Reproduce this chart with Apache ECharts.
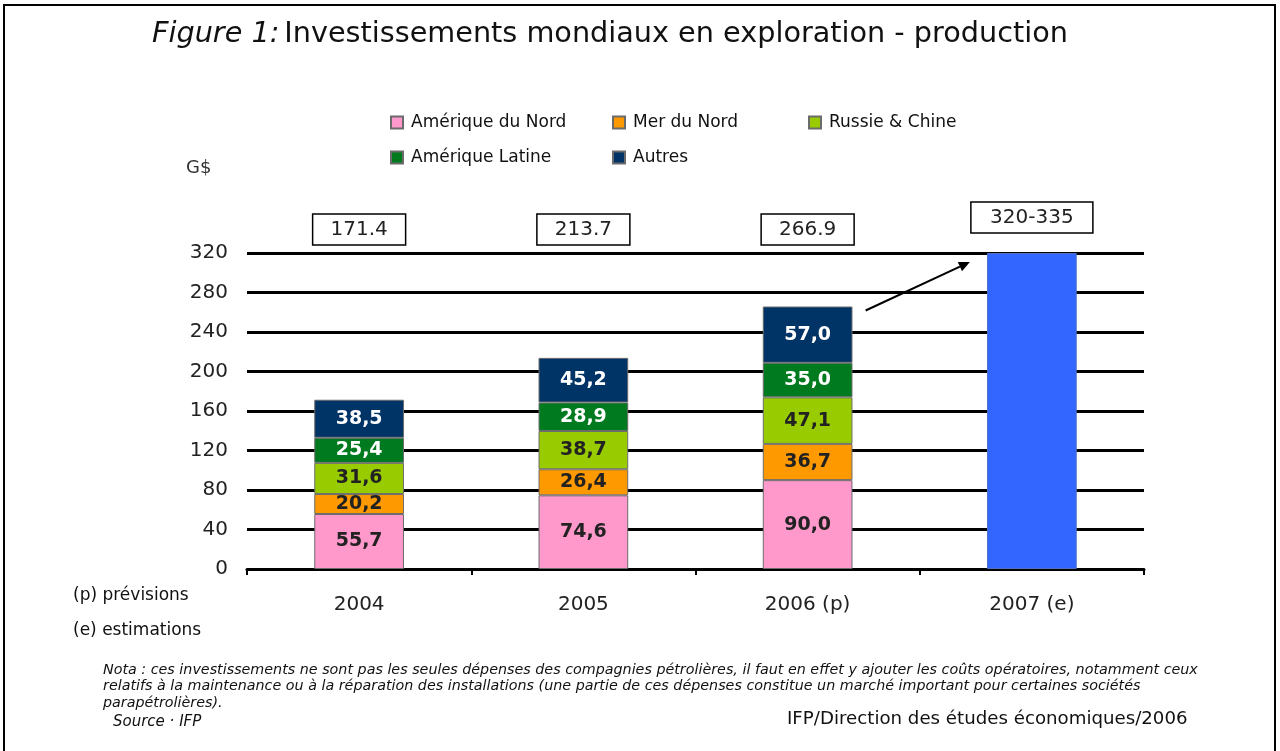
<!DOCTYPE html>
<html>
<head>
<meta charset="utf-8">
<script src="https://cdn.jsdelivr.net/npm/echarts@6/dist/echarts.min.js"></script>
<style>
html,body{margin:0;padding:0;background:#fff;}
#chart{width:1280px;height:751px;}
</style>
</head>
<body>
<div id="chart"></div>
<script>
// ---- data ----
var categories = ['2004', '2005', '2006 (p)', '2007 (e)'];
var ameriqueNord = [55.7, 74.6, 90.0, null];
var merNord = [20.2, 26.4, 36.7, null];
var russieChine = [31.6, 38.7, 47.1, null];
var ameriqueLatine = [25.4, 28.9, 35.0, null];
var autres = [38.5, 45.2, 57.0, null];
var estimation2007 = [null, null, null, 320];
var totalLabels = ['171.4', '213.7', '266.9', '320-335'];
var yTicks = {min: 0, max: 320, interval: 40};

var FONT = 'DejaVu Sans';
var chart = echarts.init(document.getElementById('chart'), null, {renderer: 'canvas'});

function fmt(p) { return p.value == null ? '' : p.value.toFixed(1).replace('.', ','); }

function seg(name, data, color, textColor) {
  return {
    name: name, type: 'bar', stack: 'total', data: data, barWidth: '40%',
    itemStyle: {color: color, borderColor: '#6b6b6b', borderWidth: 1},
    label: {show: true, position: 'inside', formatter: fmt, color: textColor,
            fontFamily: FONT, fontWeight: 'bold', fontSize: 19},
    emphasis: {disabled: true}
  };
}

function legendItem(name, left, top) {
  return {data: [name], left: left, top: top, icon: 'rect', itemWidth: 12, itemHeight: 12,
          itemGap: 9, padding: 0, selectedMode: false,
          textStyle: {fontFamily: FONT, fontSize: 17, color: '#111', padding: [0, 0, 0, 3]}};
}

var option = {
  animation: false,
  backgroundColor: '#fff',
  title: {
    left: 147, top: 15,
    text: '{a|Figure 1:} {b|Investissements mondiaux en exploration - production}',
    textStyle: {fontWeight: 'normal', rich: {
      a: {fontFamily: FONT, fontStyle: 'italic', fontWeight: 'normal', fontSize: 28.7, color: '#111'},
      b: {fontFamily: FONT, fontWeight: 'normal', fontSize: 28.7, color: '#111'}
    }}
  },
  legend: [
    legendItem('Amérique du Nord', 390, 114),
    legendItem('Mer du Nord', 612, 114),
    legendItem('Russie & Chine', 808, 114),
    legendItem('Amérique Latine', 390, 149),
    legendItem('Autres', 612, 149)
  ],
  grid: {left: 247, right: 136, top: 253, bottom: 182, containLabel: false},
  xAxis: {
    type: 'category', data: categories,
    axisLine: {lineStyle: {color: '#000', width: 3}},
    axisTick: {show: true, length: 6, lineStyle: {color: '#000', width: 2}},
    axisLabel: {fontFamily: FONT, fontSize: 20, color: '#222', margin: 26}
  },
  yAxis: {
    type: 'value', min: yTicks.min, max: yTicks.max, interval: yTicks.interval,
    axisLine: {show: false}, axisTick: {show: false},
    axisLabel: {fontFamily: FONT, fontSize: 20, color: '#222', margin: 19},
    splitLine: {lineStyle: {color: '#000', width: 3}}
  },
  series: [
    seg('Amérique du Nord', ameriqueNord, '#FF99CC', '#222'),
    seg('Mer du Nord', merNord, '#FF9900', '#222'),
    seg('Russie & Chine', russieChine, '#99CC00', '#222'),
    seg('Amérique Latine', ameriqueLatine, '#007A1F', '#fff'),
    seg('Autres', autres, '#003366', '#fff'),
    {name: '2007 (e)', type: 'bar', stack: 'total', data: estimation2007, barWidth: '40%',
     itemStyle: {color: '#3366FF', borderColor: '#5070c0', borderWidth: 1},
     emphasis: {disabled: true}}
  ]
};
chart.setOption(option);

// ---- annotations (positions derived from axes) ----
var g = [];
// outer frame
g.push({type: 'rect', shape: {x: 4, y: 5, width: 1271, height: 760},
        style: {fill: 'none', stroke: '#000', lineWidth: 2}, silent: true, z: 100});

var sums = categories.map(function (c, i) {
  return [ameriqueNord, merNord, russieChine, ameriqueLatine, autres, estimation2007]
    .reduce(function (s, arr) { return s + (arr[i] || 0); }, 0);
});

categories.forEach(function (c, i) {
  var cx = chart.convertToPixel({xAxisIndex: 0}, c);
  var isLast = i === categories.length - 1;
  var w = isLast ? 122 : 93, h = 31;
  var top = isLast ? 202 : 214;
  g.push({type: 'rect', shape: {x: cx - w / 2, y: top, width: w, height: h},
          style: {fill: '#fff', stroke: '#000', lineWidth: 1.5}, z: 50});
  g.push({type: 'text', x: cx, y: top + h / 2, z: 51,
          style: {text: totalLabels[i], fontFamily: FONT, fontSize: 20, fill: '#222',
                  align: 'center', verticalAlign: 'middle'}});
});

// arrow from 2006 bar to 2007 bar
var barHalf = 45;
var x06 = chart.convertToPixel({xAxisIndex: 0}, categories[2]) + barHalf + 13;
var y06 = chart.convertToPixel({yAxisIndex: 0}, sums[2]) + 4;
var x07 = chart.convertToPixel({xAxisIndex: 0}, categories[3]) - barHalf - 17;
var y07 = chart.convertToPixel({yAxisIndex: 0}, yTicks.max) + 9;
var ang = Math.atan2(y07 - y06, x07 - x06);
var L = 11, W = 5;
var bx = x07 - L * Math.cos(ang), by = y07 - L * Math.sin(ang);
g.push({type: 'line', shape: {x1: x06, y1: y06, x2: bx, y2: by},
        style: {stroke: '#000', lineWidth: 2}, z: 60});
g.push({type: 'polygon', z: 60, shape: {points: [
  [x07, y07],
  [bx + W * Math.sin(ang), by - W * Math.cos(ang)],
  [bx - W * Math.sin(ang), by + W * Math.cos(ang)]
]}, style: {fill: '#000'}});

// texts
g.push({type: 'text', left: 186, top: 159, style: {text: 'G$', fontFamily: FONT, fontSize: 18, fill: '#333'}});
g.push({type: 'text', left: 73, top: 587, style: {text: '(p) prévisions', fontFamily: FONT, fontSize: 17, fill: '#111'}});
g.push({type: 'text', left: 73, top: 622, style: {text: '(e) estimations', fontFamily: FONT, fontSize: 17, fill: '#111'}});
g.push({type: 'text', left: 103, top: 662, style: {
  text: 'Nota : ces investissements ne sont pas les seules dépenses des compagnies pétrolières, il faut en effet y ajouter les coûts opératoires, notamment ceux\nrelatifs à la maintenance ou à la réparation des installations (une partie de ces dépenses constitue un marché important pour certaines sociétés\nparapétrolières).',
  fontFamily: FONT, fontStyle: 'italic', fontSize: 14.3, lineHeight: 16.5, fill: '#111'}});
g.push({type: 'text', left: 113, top: 715, style: {text: 'Source · IFP', fontFamily: FONT, fontStyle: 'italic', fontSize: 15, fill: '#111'}});
g.push({type: 'text', left: 787, top: 710, style: {text: 'IFP/Direction des études économiques/2006', fontFamily: FONT, fontSize: 18.2, fill: '#111'}});

chart.setOption({graphic: g});
</script>
</body>
</html>
